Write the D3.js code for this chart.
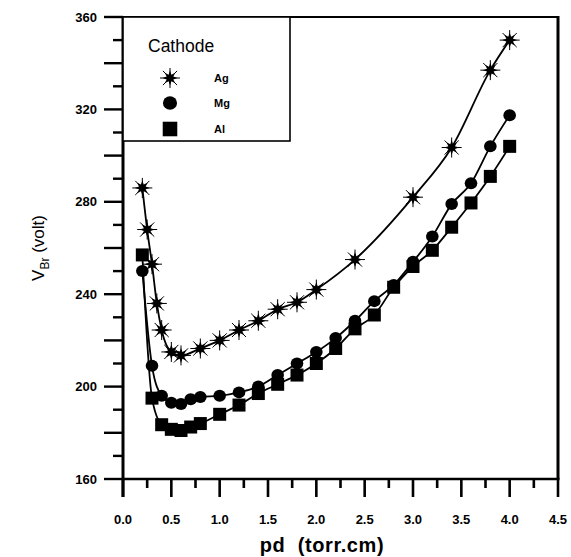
<!DOCTYPE html>
<html>
<head>
<meta charset="utf-8">
<script src="https://cdn.jsdelivr.net/npm/d3@7"></script>
<style>
  html, body { margin: 0; padding: 0; background: #fff; }
  svg { display: block; font-family: "Liberation Sans", Arial, sans-serif; }
</style>
</head>
<body>
<svg id="chart" width="571" height="557"></svg>
<script>
// Breakdown voltage vs pd for three cathode materials
const agPd = [0.2, 0.25, 0.3, 0.35, 0.4, 0.5, 0.6, 0.8, 1.0, 1.2, 1.4, 1.6, 1.8, 2.0, 2.4, 3.0, 3.4, 3.8, 4.0];
const agV  = [286, 268, 253, 236, 224.5, 215, 213.5, 216.5, 220, 224.5, 228.5, 233.5, 236.5, 242, 255, 282, 303.5, 337, 350];

const mgPd = [0.2, 0.3, 0.4, 0.5, 0.6, 0.7, 0.8, 1.0, 1.2, 1.4, 1.6, 1.8, 2.0, 2.2, 2.4, 2.6, 2.8, 3.0, 3.2, 3.4, 3.6, 3.8, 4.0];
const mgV  = [250, 209, 196, 193, 192.5, 194.5, 195.5, 196, 197.5, 200, 205, 210, 215, 221, 228.5, 237, 244, 254, 265, 279, 288, 304, 317.5];

const alPd = [0.2, 0.3, 0.4, 0.5, 0.6, 0.7, 0.8, 1.0, 1.2, 1.4, 1.6, 1.8, 2.0, 2.2, 2.4, 2.6, 2.8, 3.0, 3.2, 3.4, 3.6, 3.8, 4.0];
const alV  = [257, 195, 183.5, 181.5, 181, 182.5, 184, 188, 192, 197, 201, 205, 210, 216.5, 225, 231, 243, 252, 259, 269, 279.5, 291, 304];

const seriesNames = ["Ag", "Mg", "Al"];
const markerKinds = ["star", "circle", "square"];
const xTickLabels = ["0.0", "0.5", "1.0", "1.5", "2.0", "2.5", "3.0", "3.5", "4.0", "4.5"];
const yTickLabels = ["160", "200", "240", "280", "320", "360"];
const legendTitle = "Cathode";

const svg = d3.select("#chart");
const L = 123, R = 558, T = 17, B = 479;

const x = d3.scaleLinear().domain([0, 4.5]).range([L, R]);
const y = d3.scaleLinear().domain([160, 360]).range([B, T]);

// tick positions: long ticks at major steps, short ticks halfway between
const xMajor = d3.range(0, 4.51, 0.5);
const xMinor = d3.range(0.25, 4.5, 0.5);
const yMajor = d3.range(160, 361, 20);
const yMinor = d3.range(170, 360, 20);

// ticks drawn as thin filled bars pointing out of the plot
const tickG = svg.append("g");
xMajor.forEach(v => tickG.append("rect").attr("fill", "#000").attr("x", x(v) - 1.3).attr("y", B).attr("width", 2.6).attr("height", 18));
xMinor.forEach(v => tickG.append("rect").attr("fill", "#000").attr("x", x(v) - 1.3).attr("y", B).attr("width", 2.6).attr("height", 9));
yMajor.forEach(v => tickG.append("rect").attr("fill", "#000").attr("x", L - 19).attr("y", y(v) - 1.2).attr("width", 19).attr("height", 2.4));
yMinor.forEach(v => tickG.append("rect").attr("fill", "#000").attr("x", L - 10).attr("y", y(v) - 1.2).attr("width", 10).attr("height", 2.4));

xTickLabels.forEach(t => {
  svg.append("text").attr("x", x(+t)).attr("y", 524).attr("text-anchor", "middle")
    .attr("font-size", 13).attr("font-weight", "bold").text(t);
});
yTickLabels.forEach(t => {
  svg.append("text").attr("x", 97).attr("y", y(+t) + 4.5).attr("text-anchor", "end")
    .attr("font-size", 13).attr("font-weight", "bold").text(t);
});

// frame
svg.append("line").attr("x1", L).attr("x2", R).attr("y1", T).attr("y2", T).attr("stroke", "#000").attr("stroke-width", 2);
svg.append("line").attr("x1", R).attr("x2", R).attr("y1", T - 1).attr("y2", B).attr("stroke", "#000").attr("stroke-width", 3);
svg.append("line").attr("x1", L).attr("x2", R + 1.5).attr("y1", B).attr("y2", B).attr("stroke", "#000").attr("stroke-width", 2.6);
svg.append("line").attr("x1", L).attr("x2", L).attr("y1", T - 1).attr("y2", B + 18).attr("stroke", "#000").attr("stroke-width", 3);

// axis titles
svg.append("text").attr("x", 322).attr("y", 552).attr("text-anchor", "middle")
  .attr("font-size", 20).attr("font-weight", "bold").attr("letter-spacing", 0.6)
  .attr("xml:space", "preserve").text("pd  (torr.cm)");
const yt = svg.append("text").attr("transform", "translate(44,248) rotate(-90)")
  .attr("text-anchor", "middle").attr("font-size", 17);
yt.append("tspan").text("V");
yt.append("tspan").attr("font-size", 12).attr("dy", 5).text("Br");
yt.append("tspan").attr("dy", -5).text(" (volt)");

// markers
function starPath(ro, ri) {
  const pts = [];
  for (let i = 0; i < 16; i++) {
    const a = Math.PI / 8 * i - Math.PI / 2;
    const r = i % 2 === 0 ? ro : ri;
    pts.push([r * Math.cos(a), r * Math.sin(a)]);
  }
  return "M" + pts.map(p => p.join(",")).join("L") + "Z";
}
function drawMarker(g, kind, cx, cy, s) {
  if (kind === "star") {
    const m = g.append("g").attr("transform", `translate(${cx},${cy})`);
    m.append("path").attr("d", starPath(7.5 * s, 3.6 * s)).attr("fill", "#000");
    for (let i = 0; i < 8; i++) {
      const a = Math.PI / 4 * i;
      m.append("line").attr("x1", 0).attr("y1", 0)
        .attr("x2", 10 * s * Math.cos(a)).attr("y2", 10 * s * Math.sin(a))
        .attr("stroke", "#000").attr("stroke-width", 1);
    }
  } else if (kind === "circle") {
    g.append("ellipse").attr("cx", cx).attr("cy", cy).attr("rx", 6.3 * s).attr("ry", 6 * s).attr("fill", "#000");
  } else {
    g.append("rect").attr("x", cx - 6.5 * s).attr("y", cy - 6.5 * s)
      .attr("width", 13 * s).attr("height", 13 * s).attr("fill", "#000");
  }
}

const series = [
  { pd: agPd, v: agV },
  { pd: mgPd, v: mgV },
  { pd: alPd, v: alV }
];
const line = d3.line().x(d => x(d[0])).y(d => y(d[1])).curve(d3.curveMonotoneX);

series.forEach(s => {
  const pts = s.pd.map((p, j) => [p, s.v[j]]);
  svg.append("path").attr("d", line(pts)).attr("fill", "none").attr("stroke", "#000").attr("stroke-width", 1.8);
});
series.forEach((s, i) => {
  const g = svg.append("g");
  s.pd.forEach((p, j) => drawMarker(g, markerKinds[i], x(p), y(s.v[j]), 1));
});

// legend
const lg = svg.append("g");
lg.append("rect").attr("x", L).attr("y", T).attr("width", 290 - L).attr("height", 124)
  .attr("fill", "#fff").attr("stroke", "#000").attr("stroke-width", 1.6);
lg.append("text").attr("x", 148).attr("y", 52).attr("font-size", 17.5).text(legendTitle);
const legY = [78, 103, 129];
seriesNames.forEach((n, i) => {
  drawMarker(lg, markerKinds[i], 170, legY[i], i === 0 ? 1 : 1.12);
  lg.append("text").attr("x", 214).attr("y", legY[i] + 4).attr("font-size", 11)
    .attr("font-weight", "bold").text(n);
});
</script>
</body>
</html>
